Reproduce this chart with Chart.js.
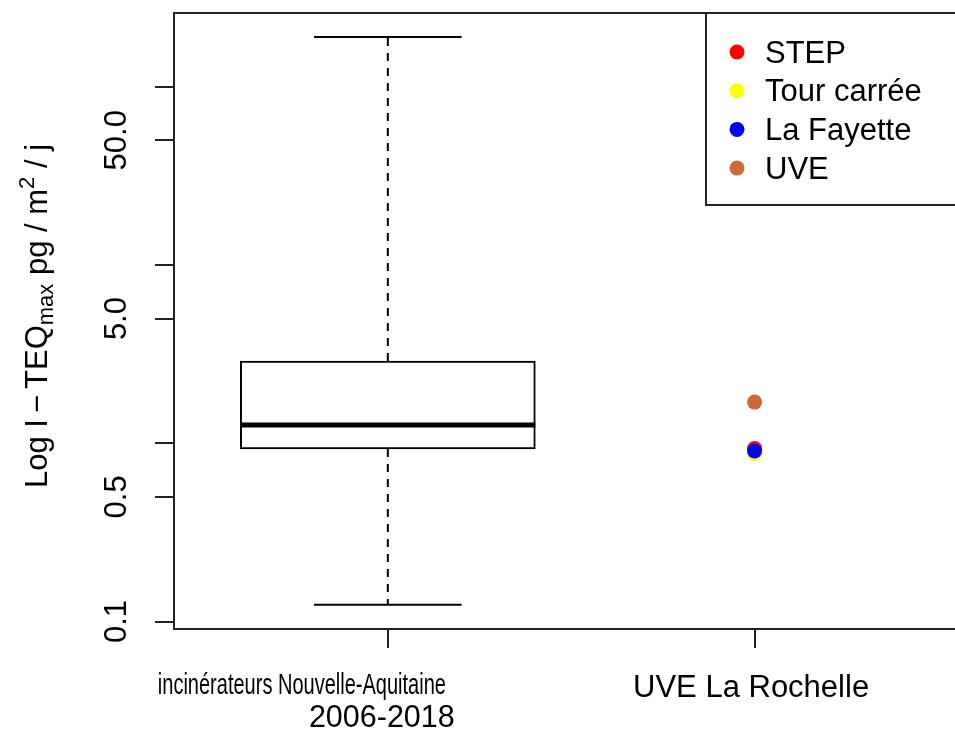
<!DOCTYPE html>
<html><head><meta charset="utf-8">
<script src="https://cdn.jsdelivr.net/npm/chart.js@4.4.0/dist/chart.umd.min.js"></script>
<style>html,body{margin:0;padding:0;background:#fff;overflow:hidden}canvas{display:block}</style>
</head><body>
<canvas id="c" width="955" height="733"></canvas>
<script>
// ---------- data ----------
const categories = ['incinérateurs Nouvelle-Aquitaine 2006-2018', 'UVE La Rochelle'];
const categoryLines = [['incinérateurs Nouvelle-Aquitaine', '2006-2018'], ['UVE La Rochelle']];
const boxKeys = ['min', 'q1', 'median', 'q3', 'max'];
const boxValues = [0.124, 0.928, 1.265, 2.89, 190];
const seriesNames = ['STEP', 'Tour carrée', 'La Fayette', 'UVE'];
const seriesValues = [0.934, 0.876, 0.904, 1.70];
const yTickValues = [0.1, 0.5, 1, 5, 10, 50, 100];
const yTickLabels = ['0.1', '0.5', '', '5.0', '', '50.0', ''];
const titleParts = [['Log I', 'n'], ['−', 'n'], ['TEQ', 'n'], ['max', 'sub'], [' pg / m', 'n'], ['2', 'sup'], [' / j', 'n']];

// ---------- styles ----------
const seriesColors = ['#FF0000', '#FFFF00', '#0000FF', '#CD6839'];
const FONT = '"Liberation Sans", Arial, sans-serif';
const INK = '#000';
const LINE = '#222';
const Y_MIN = 0.09077, Y_MAX = 258.7;
const X_MIN = 0.417, X_MAX = 2.526;

const bv = k => boxValues[boxKeys.indexOf(k)];
Chart.defaults.font.family = FONT;

const extras = {
  id: 'extras',
  afterDatasetsDraw(chart) {
    const { ctx, scales: { x, y } } = chart;
    const bar = chart.getDatasetMeta(0).data[0];
    const { x: cx, width: bw } = bar.getProps(['x', 'width'], true);
    const half = bw / 2;
    ctx.save();
    ctx.strokeStyle = INK;
    ctx.lineCap = 'butt';
    ctx.lineWidth = 2;
    ctx.setLineDash([8, 7]);
    ctx.beginPath();
    ctx.moveTo(cx, y.getPixelForValue(bv('q3')));
    ctx.lineTo(cx, y.getPixelForValue(bv('max')));
    ctx.moveTo(cx, y.getPixelForValue(bv('q1')));
    ctx.lineTo(cx, y.getPixelForValue(bv('min')));
    ctx.stroke();
    ctx.setLineDash([]);
    ctx.beginPath();
    for (const k of ['max', 'min']) {
      const py = y.getPixelForValue(bv(k));
      ctx.moveTo(cx - half / 2, py);
      ctx.lineTo(cx + half / 2, py);
    }
    ctx.stroke();
    ctx.lineWidth = 5;
    ctx.beginPath();
    const my = y.getPixelForValue(bv('median'));
    ctx.moveTo(cx - half, my);
    ctx.lineTo(cx + half, my);
    ctx.stroke();
    ctx.restore();
  },
  afterDraw(chart) {
    const { ctx, chartArea: a, scales: { x } } = chart;
    const right = chart.width;
    ctx.save();
    ctx.strokeStyle = LINE;
    ctx.lineWidth = 2;
    ctx.beginPath();
    ctx.moveTo(a.left - 1, a.top);
    ctx.lineTo(right, a.top);
    ctx.moveTo(a.right, a.bottom);
    ctx.lineTo(right, a.bottom);
    ctx.stroke();
    const lx = 706, lb = 205;
    ctx.beginPath();
    ctx.moveTo(lx, a.top);
    ctx.lineTo(lx, lb);
    ctx.lineTo(right, lb);
    ctx.stroke();
    ctx.font = '31px ' + FONT;
    ctx.textBaseline = 'middle';
    ctx.textAlign = 'left';
    seriesNames.forEach((n, i) => {
      const cy = 52 + i * 38.7;
      ctx.fillStyle = seriesColors[i];
      ctx.beginPath();
      ctx.arc(737, cy, 7.5, 0, Math.PI * 2);
      ctx.fill();
      ctx.fillStyle = INK;
      ctx.fillText(n, 765, cy + 2);
    });
    const t1 = x.getPixelForValue(1), t2 = x.getPixelForValue(2);
    ctx.fillStyle = INK;
    ctx.textBaseline = 'alphabetic';
    ctx.textAlign = 'left';
    ctx.save();
    ctx.font = '29px ' + FONT;
    ctx.translate(t1 - 230, 694);
    ctx.scale(0.69, 1);
    ctx.fillText(categoryLines[0][0], 0, 0);
    ctx.restore();
    ctx.textAlign = 'center';
    ctx.font = '30.5px ' + FONT;
    ctx.fillText(categoryLines[0][1], t1 - 6, 727);
    ctx.font = '31px ' + FONT;
    ctx.fillText(categoryLines[1][0], t2 - 3.5, 697);
    ctx.save();
    ctx.translate(47, 488);
    ctx.rotate(-Math.PI / 2);
    ctx.textAlign = 'left';
    let p = 0;
    for (const [s, kind] of titleParts) {
      if (kind === 'n') {
        ctx.font = '31px ' + FONT;
        if (s === '−') p += 6;
        ctx.fillText(s, p, 0);
        p += ctx.measureText(s).width;
        if (s === '−') p += 6;
      } else {
        ctx.font = '22px ' + FONT;
        ctx.fillText(s, p, kind === 'sub' ? 6 : -13);
        p += ctx.measureText(s).width;
      }
    }
    ctx.restore();
    ctx.restore();
  }
};

const datasets = [{
  type: 'bar',
  label: categories[0],
  data: [{ x: 1, y: [bv('q1'), bv('q3')] }],
  barThickness: 295,
  backgroundColor: '#fff',
  borderColor: INK,
  borderWidth: 2,
  borderSkipped: false,
  order: 10
}].concat(seriesNames.map((n, i) => ({
  type: 'scatter',
  label: n,
  data: [{ x: 2, y: seriesValues[i] }],
  pointRadius: 7.5,
  pointHoverRadius: 7.5,
  backgroundColor: seriesColors[i],
  borderWidth: 0,
  order: seriesNames.length - i
})));

new Chart(document.getElementById('c'), {
  data: { datasets },
  options: {
    responsive: false,
    animation: false,
    events: [],
    layout: { padding: { top: 13, left: 0, right: 0, bottom: 0 } },
    plugins: { legend: { display: false }, tooltip: { enabled: false } },
    scales: {
      x: {
        type: 'linear', min: X_MIN, max: X_MAX, offset: false,
        afterBuildTicks: s => { s.ticks = [{ value: 1 }, { value: 2 }]; },
        ticks: { callback: () => '', autoSkip: false },
        grid: { offset: false, drawOnChartArea: false, drawTicks: true, tickLength: 19, color: LINE, lineWidth: 2 },
        border: { display: true, color: LINE, width: 2 },
        afterFit: s => { s.height = 104; s.paddingLeft = 0; s.paddingRight = 0; }
      },
      y: {
        type: 'logarithmic', min: Y_MIN, max: Y_MAX, offset: false,
        afterBuildTicks: s => { s.ticks = yTickValues.map(v => ({ value: v })); },
        ticks: {
          callback: (v, i) => yTickLabels[i],
          autoSkip: false, minRotation: 90, maxRotation: 90, crossAlign: 'center',
          padding: 7, color: INK, font: { size: 31, family: FONT }
        },
        grid: { offset: false, drawOnChartArea: false, drawTicks: true, tickLength: 19, color: LINE, lineWidth: 2 },
        border: { display: true, color: LINE, width: 2 },
        afterFit: s => { s.width = 174; s.paddingTop = 0; s.paddingBottom = 0; }
      }
    }
  },
  plugins: [extras]
});
</script>
</body></html>
